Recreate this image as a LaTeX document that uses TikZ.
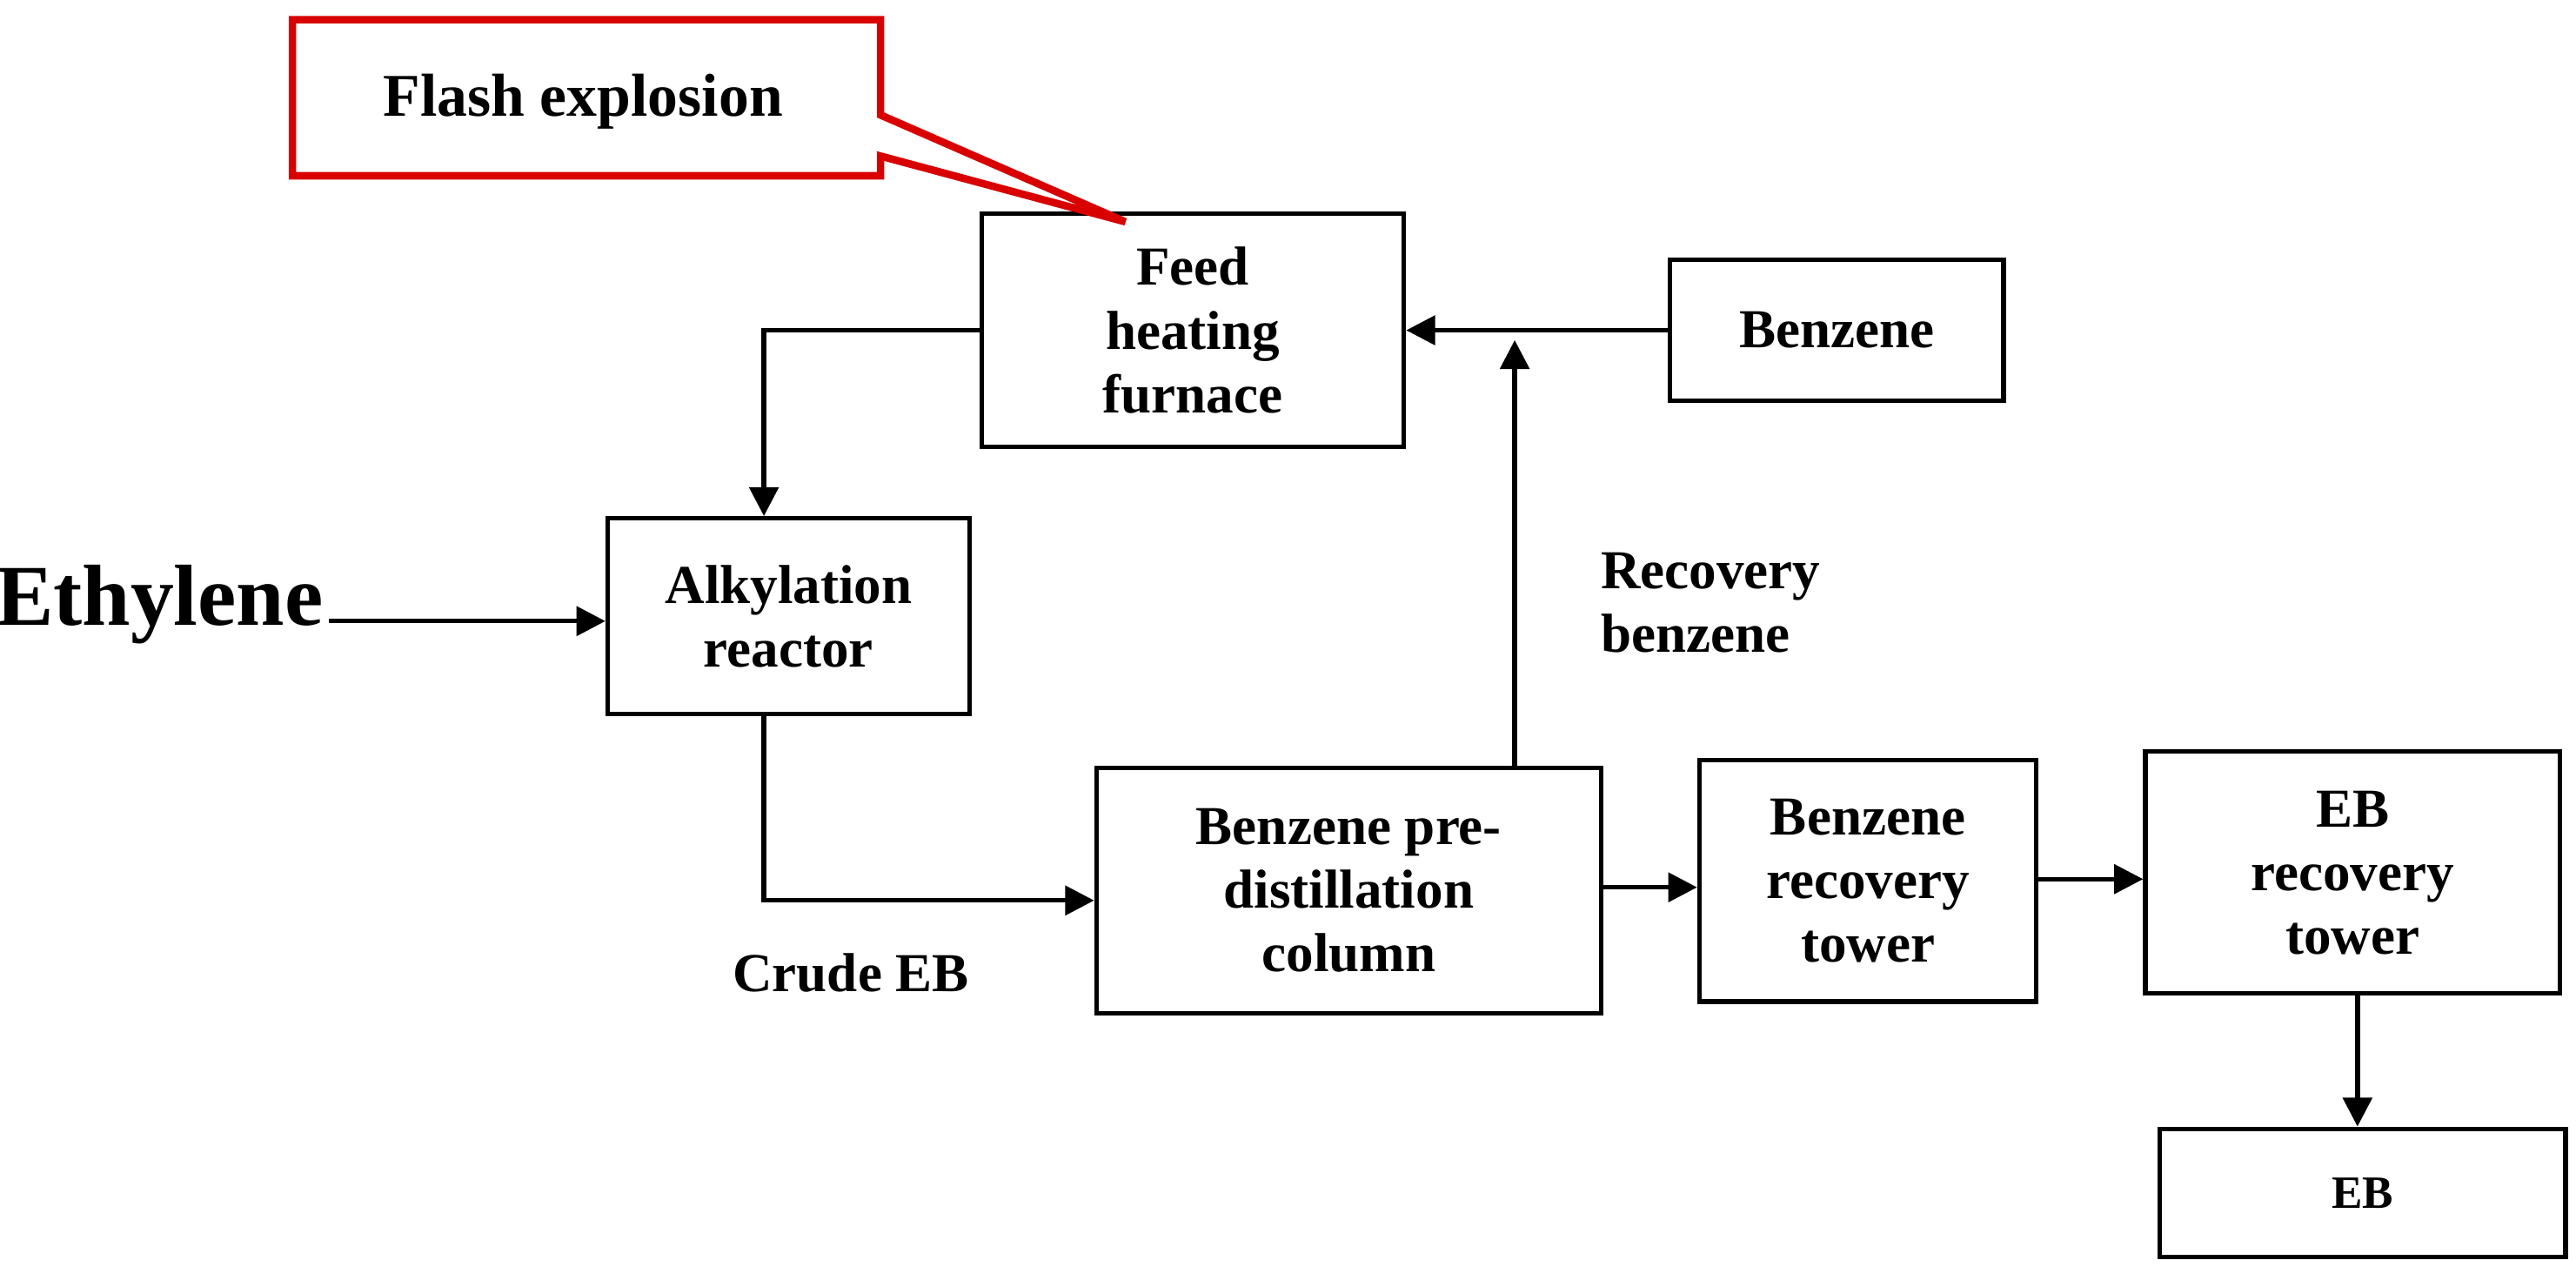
\documentclass[tikz,border=0pt]{standalone}
\usepackage{fontspec}
\setmainfont{Liberation Serif}
\usetikzlibrary{positioning,arrows.meta}
\begin{document}
\begin{tikzpicture}
		[x=0.01cm,y=-0.01cm,
		 box/.style={draw,line width=0.8pt,align=center,font=\bfseries\fontsize{9.5}{11}\selectfont,inner sep=0pt},
		 flow/.style={-{Triangle[length=5pt,width=5pt]},line width=0.8pt},
		 lbl/.style={font=\bfseries\fontsize{9.5}{11}\selectfont,align=left}]
		\useasboundingbox (0,0) rectangle (1568,783);

		% the process boxes
		\node[box,minimum width=2.57cm,minimum height=1.42cm] (furnace) at (726,201) {Feed\\heating\\furnace};
		\node[box,minimum width=2.03cm,minimum height=0.86cm] (benzene) at (1118,201) {Benzene};
		\node[box,minimum width=2.2cm,minimum height=1.19cm] (reactor) at (480,375) {Alkylation\\reactor};
		\node[box,minimum width=3.07cm,minimum height=1.49cm] (predist) at (821,542) {Benzene pre-\\distillation\\column};
		\node[box,minimum width=2.05cm,minimum height=1.47cm] (benrec) at (1137,536) {Benzene\\recovery\\tower};
		\node[box,minimum width=2.52cm,minimum height=1.47cm] (ebrec) at (1432,531) {EB\\recovery\\tower};
		\node[box,minimum width=2.47cm,minimum height=0.78cm,font=\bfseries\fontsize{8}{10}\selectfont] (eb) at (1438,726) {EB};

		% the labels
		\node[font=\bfseries\fontsize{15}{17}\selectfont] (ethylene) at (97,368) {Ethylene};
		\node[lbl,anchor=west] (recben) at (962,367) {Recovery\\benzene};
		\node[lbl] (crude) at (518,592) {Crude EB};

		% the callout
		\coordinate (tip) at (685,135);
		\draw[red!85!black,line width=1.3pt,fill=white] (178,12) -- (536,12) -- (536,70) -- (tip) -- (536,95) -- (536,107) -- (178,107) -- cycle;
		\node[font=\bfseries\fontsize{10.5}{12}\selectfont] (flash) at (355,62) {Flash explosion};

		% the flows
		\coordinate (eth) at (200,378);
		\draw[flow] (eth) -- (reactor.west |- eth);
		\draw[flow] (furnace.west) -| (reactor.north -| 465,0);
		\draw[flow] (benzene.west) -- (furnace.east);
		\draw[flow] (predist.north -| 922,0) -- (922,207);
		\draw[flow] (reactor.south -| 465,0) |- (predist.west |- 0,548);
		\draw[flow] (predist.east |- 0,540) -- (benrec.west |- 0,540);
		\draw[flow] (benrec.east |- 0,535) -- (ebrec.west |- 0,535);
		\draw[flow] (ebrec.south -| 1435,0) -- (eb.north -| 1435,0);
	\end{tikzpicture}
\end{document}
